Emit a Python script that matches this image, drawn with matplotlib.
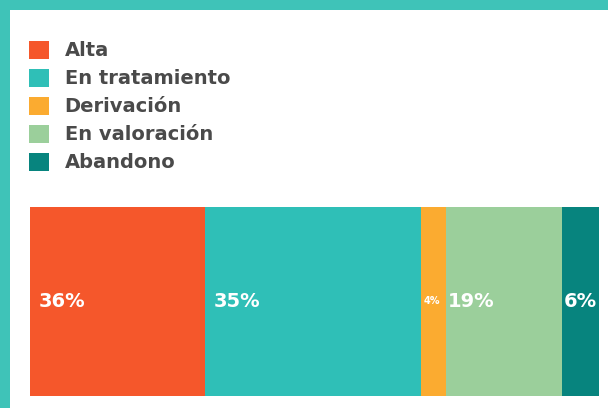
import matplotlib
matplotlib.use("Agg")
import matplotlib.pyplot as plt
from matplotlib.patches import Rectangle

categories = ["Alta", "En tratamiento", "Derivación", "En valoración", "Abandono"]
labels_pct = [36, 35, 4, 19, 6]          # printed percentages
shares = [30.8, 38.0, 4.4, 20.4, 6.5]    # segment widths as drawn in the picture
colors = ["#F5572B", "#2FBFB7", "#FBAB30", "#9BCF9B", "#07847E"]

W, H = 608, 408
fig = plt.figure(figsize=(W / 100, H / 100), dpi=100)
fig.patch.set_facecolor("white")

# frame bands
border = "#3FC3B8"
fig.add_artist(Rectangle((0, (H - 10) / H), 1, 10 / H, transform=fig.transFigure,
                         color=border, lw=0, zorder=0))
fig.add_artist(Rectangle((0, 0), 10 / W, 1, transform=fig.transFigure,
                         color=border, lw=0, zorder=0))

ax = fig.add_axes([30 / W, (H - 396) / H, 569 / W, 189 / H])
left = 0
handles = []
for i, (cat, val, pct, col) in enumerate(zip(categories, shares, labels_pct, colors)):
    b = ax.barh(0, val, left=left, height=1, color=col, label=cat, lw=0)
    handles.append(b[0])
    fs = 7 if pct < 5 else 14
    off = 6 if i < 2 else 1.5
    ax.annotate(f"{pct}%", xy=(left, 0), xytext=(off, 0), textcoords="offset points",
                color="white", fontsize=fs, fontweight="bold",
                ha="left", va="center")
    left += val
ax.set_xlim(0, sum(shares))
ax.set_ylim(-0.5, 0.5)
ax.axis("off")

leg = fig.legend(handles=handles, labels=categories, loc="upper left",
                 bbox_to_anchor=(15 / W, (H - 27) / H), frameon=False,
                 prop={"weight": "bold", "size": 14},
                 handlelength=1.05, handleheight=1.05, handletextpad=0.8,
                 labelspacing=0.43, borderpad=0.2)
for t in leg.get_texts():
    t.set_color("#4A4A4A")

fig.savefig("out.png", dpi=100)
